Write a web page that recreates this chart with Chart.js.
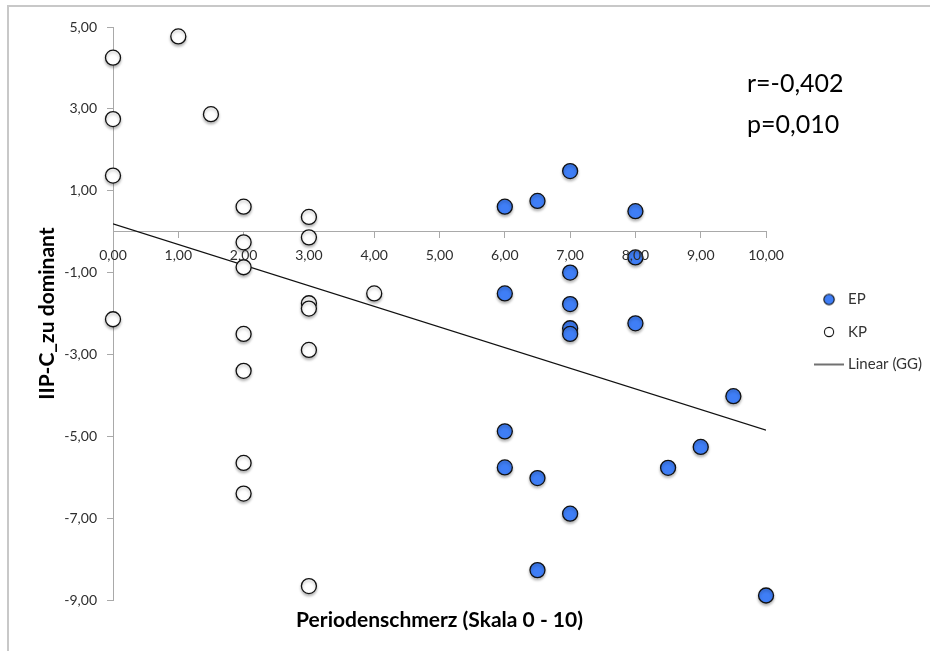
<!DOCTYPE html>
<html>
<head>
<meta charset="utf-8">
<script src="https://cdn.jsdelivr.net/npm/chart.js@4"></script>
<style>
  html, body { margin: 0; padding: 0; background: #fff; }
  #wrap { position: relative; width: 930px; height: 651px; overflow: hidden; }
  #frame { position: absolute; left: 7px; top: 5px; right: -5px; bottom: -5px; border-top: 2px solid #c8c8c8; border-left: 2px solid #c8c8c8; }
  #chart { position: absolute; left: 0; top: 0; }
</style>
</head>
<body>
<div id="wrap">
  <div id="frame"></div>
  <canvas id="chart" width="930" height="651"></canvas>
</div>
<script>
// EP group (blue points)
let ep_x = [7, 6, 6.5, 8, 8, 7, 6, 7, 8, 7, 7, 9.5, 6, 9, 6, 8.5, 6.5, 7, 6.5, 10]
let ep_y = [1.48, 0.61, 0.75, 0.50, -0.63, -1.00, -1.51, -1.77, -2.24, -2.36, -2.50, -4.02, -4.88, -5.26, -5.76, -5.77, -6.02, -6.89, -8.27, -8.89]

// KP group (white points)
let kp_x = [0, 0, 0, 0, 1, 1.5, 2, 2, 2, 2, 2, 2, 2, 3, 3, 3, 3, 3, 3, 4]
let kp_y = [4.25, 2.75, 1.37, -2.14, 4.77, 2.87, 0.61, -0.26, -0.87, -2.50, -3.40, -5.65, -6.40, 0.36, -0.14, -1.75, -1.88, -2.89, -8.66, -1.51]

// linear trend over the whole group (GG)
let trend_x = [0, 10]
let trend_y = [0.19, -4.85]

let x_ticks = [0, 1, 2, 3, 4, 5, 6, 7, 8, 9, 10]
let y_ticks = [-9, -7, -5, -3, -1, 1, 3, 5]
let stats_text = ["r=-0,402", "p=0,010"]

let blue = "#3f7ef6"
let dark = "#111111"
let axis_grey = "#a9a9a9"
let font_name = "Lato"

function to_points(xs, ys) {
    let points = []
    for (let i = 0; i < xs.length; i++) {
        points.push({"x": xs[i], "y": ys[i]})
    }
    return points
}

function comma_number(value) {
    return Number(value).toFixed(2).replace(".", ",")
}

// small pictures for the legend entries
function legend_icon(kind) {
    let c = document.createElement("canvas")
    if (kind == "line") {
        c.width = 30
        c.height = 4
        let g = c.getContext("2d")
        g.strokeStyle = dark
        g.lineWidth = 1.2
        g.beginPath()
        g.moveTo(0, 2)
        g.lineTo(30, 2)
        g.stroke()
        return c
    }
    c.width = 14
    c.height = 14
    let g = c.getContext("2d")
    g.beginPath()
    g.arc(7, 7, kind == "ep" ? 5.2 : 4.6, 0, Math.PI * 2)
    g.fillStyle = kind == "ep" ? blue : "#ffffff"
    g.fill()
    g.lineWidth = 1.1
    g.strokeStyle = dark
    g.stroke()
    return c
}

let legend_icons = [legend_icon("ep"), legend_icon("kp"), legend_icon("line")]

const point_shadow = {
    id: "point_shadow",
    beforeDatasetDraw(chart, args) {
        if (args.meta.type !== "scatter") return
        let ctx = chart.ctx
        ctx.save()
        ctx.shadowColor = "rgba(0, 0, 0, 0.28)"
        ctx.shadowBlur = 3
        ctx.shadowOffsetY = 2
    },
    afterDatasetDraw(chart, args) {
        if (args.meta.type !== "scatter") return
        chart.ctx.restore()
    }
}

const stats_label = {
    id: "stats_label",
    afterDraw(chart) {
        let ctx = chart.ctx
        ctx.save()
        ctx.font = "25px " + font_name
        ctx.fillStyle = "#000"
        ctx.textBaseline = "alphabetic"
        ctx.fillText(stats_text[0], 747, 92)
        ctx.fillText(stats_text[1], 747, 133)
        ctx.restore()
    }
}

new Chart(document.getElementById("chart"), {
    type: "scatter",
    data: {
        datasets: [{
            label: "EP",
            data: to_points(ep_x, ep_y),
            backgroundColor: blue,
            borderColor: dark,
            borderWidth: 1.3,
            pointRadius: 7.5,
            xAxisID: "x",
            yAxisID: "y",
            clip: false,
            order: 1
        }, {
            label: "KP",
            data: to_points(kp_x, kp_y),
            backgroundColor: "#ffffff",
            borderColor: dark,
            borderWidth: 1.3,
            pointRadius: 7.5,
            xAxisID: "x",
            yAxisID: "y",
            clip: false,
            order: 2
        }, {
            label: "Linear (GG)",
            type: "line",
            data: to_points(trend_x, trend_y),
            borderColor: dark,
            borderWidth: 1.2,
            pointRadius: 0,
            fill: false,
            xAxisID: "x",
            yAxisID: "y",
            order: 3
        }]
    },
    options: {
        responsive: false,
        animation: false,
        layout: { padding: { left: 31, top: 27, right: -2, bottom: 14 } },
        plugins: {
            tooltip: { enabled: false },
            legend: {
                position: "right",
                labels: {
                    font: { family: font_name, size: 15 },
                    color: "#333",
                    usePointStyle: true,
                    pointStyleWidth: 23,
                    boxHeight: 15,
                    padding: 17.5,
                    generateLabels: chart => {
                        let items = Chart.defaults.plugins.legend.labels.generateLabels(chart)
                        items.forEach((item, i) => { item.pointStyle = legend_icons[i] })
                        return items
                    }
                }
            }
        },
        scales: {
            x: {
                type: "linear",
                position: { y: 0 },
                min: 0,
                max: 10,
                afterBuildTicks: scale => { scale.ticks = x_ticks.map(v => ({ value: v })) },
                ticks: {
                    callback: comma_number,
                    font: { family: font_name, size: 14 },
                    color: "#2e2e2e",
                    padding: 9,
                    maxRotation: 0,
                    autoSkip: false,
                    z: 1
                },
                grid: { drawOnChartArea: false, tickLength: 6, color: axis_grey },
                border: { color: axis_grey }
            },
            x2: {
                type: "linear",
                position: "bottom",
                min: 0,
                max: 10,
                afterFit: scale => { scale.height = 37 },
                ticks: { display: false },
                grid: { display: false },
                border: { display: false },
                title: {
                    display: true,
                    text: "Periodenschmerz (Skala 0 - 10)",
                    font: { family: font_name, size: 21, weight: "bold" },
                    color: "#000",
                    padding: { top: 0, bottom: 4 }
                }
            },
            y: {
                type: "linear",
                position: "left",
                min: -9,
                max: 5,
                afterBuildTicks: scale => { scale.ticks = y_ticks.map(v => ({ value: v })) },
                afterFit: scale => { scale.width = 82 },
                ticks: {
                    callback: comma_number,
                    font: { family: font_name, size: 14 },
                    color: "#2e2e2e",
                    padding: 10
                },
                grid: { drawOnChartArea: false, tickLength: 6, color: axis_grey },
                border: { color: axis_grey },
                title: {
                    display: true,
                    text: "IIP-C_zu dominant",
                    font: { family: font_name, size: 21, weight: "bold" },
                    color: "#000",
                    padding: { top: 4, bottom: 4 }
                }
            },
            y2: {
                type: "linear",
                position: "right",
                ticks: { display: false },
                grid: { display: false },
                border: { display: false },
                afterFit: scale => { scale.width = 34 }
            }
        }
    },
    plugins: [point_shadow, stats_label]
})
</script>
</body>
</html>
